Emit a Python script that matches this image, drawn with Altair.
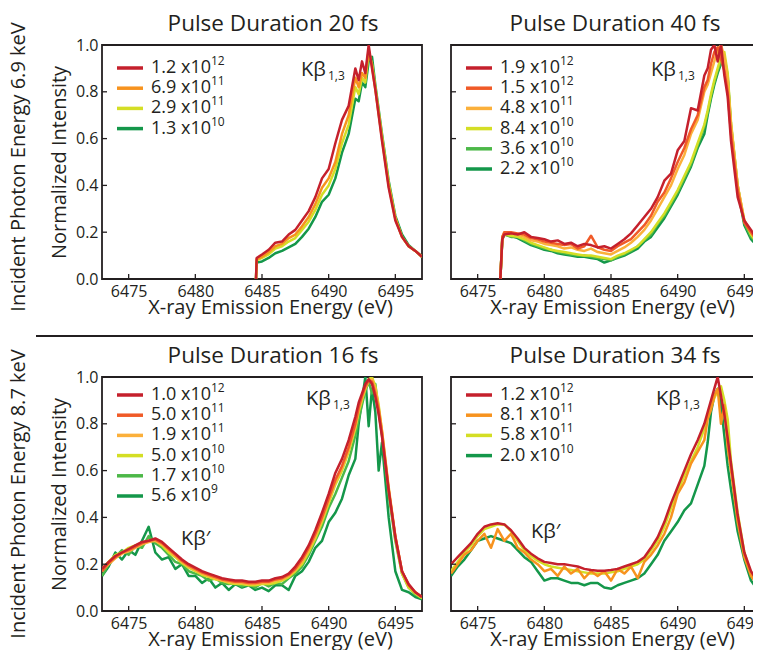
import altair as alt
import pandas as pd

FONT = "Open Sans"
INK = "#231f20"
W, H = 320, 234
X_DOMAIN = [6473, 6497]
X_TICKS = [6475, 6480, 6485, 6490, 6495]
Y_TICKS = [0.0, 0.2, 0.4, 0.6, 0.8, 1.0]
Y_INNER = [0.2, 0.4, 0.6, 0.8]

RED = "#c5202c"
ORED = "#f05a28"
ORANGE = "#f7931e"
LORANGE = "#fbb03b"
YELLOW = "#d4de25"
LGREEN = "#4cb848"
GREEN = "#14974a"

# ---------------- Panel A: 6.9 keV, 20 fs ----------------
GRID_A = [6484.55, 6484.6, 6485.0, 6485.5, 6486.0, 6486.5, 6487.0, 6487.5, 6488.0, 6488.5,
          6489.0, 6489.5, 6490.0, 6490.5, 6491.0, 6491.5, 6492.0, 6492.25, 6492.5, 6492.75,
          6493.0, 6493.25, 6493.5, 6494.0, 6494.5, 6495.0, 6495.5, 6496.0, 6496.5, 6497.0]
A_NAMES = ["1.2e12", "6.9e11", "2.9e11", "1.3e10"]
A_MAIN = ["1.2 x10", "6.9 x10", "2.9 x10", "1.3 x10"]
A_EXP = ["12", "11", "11", "10"]
A_COLORS = [RED, ORANGE, YELLOW, GREEN]
A_1 = [0.0, 0.09, 0.105, 0.125, 0.155, 0.16, 0.19, 0.21, 0.25, 0.29,
       0.35, 0.43, 0.47, 0.58, 0.68, 0.74, 0.90, 0.85, 0.93, 0.88,
       1.0, 0.90, 0.81, 0.59, 0.39, 0.25, 0.18, 0.14, 0.12, 0.095]
A_2 = [0.0, 0.085, 0.095, 0.115, 0.14, 0.15, 0.175, 0.19, 0.225, 0.265,
       0.32, 0.39, 0.43, 0.50, 0.62, 0.70, 0.86, 0.82, 0.88, 0.86,
       0.98, 0.91, 0.81, 0.60, 0.40, 0.26, 0.18, 0.14, 0.12, 0.095]
A_3 = [0.0, 0.08, 0.09, 0.105, 0.13, 0.14, 0.16, 0.175, 0.21, 0.245,
       0.295, 0.36, 0.40, 0.47, 0.58, 0.66, 0.82, 0.79, 0.86, 0.84,
       0.97, 0.92, 0.82, 0.61, 0.41, 0.26, 0.18, 0.14, 0.12, 0.095]
A_4 = [0.0, 0.07, 0.075, 0.09, 0.11, 0.12, 0.135, 0.15, 0.18, 0.215,
       0.265, 0.33, 0.36, 0.43, 0.54, 0.62, 0.77, 0.76, 0.84, 0.82,
       0.93, 0.95, 0.83, 0.62, 0.42, 0.27, 0.19, 0.145, 0.12, 0.095]

# ---------------- Panel B: 6.9 keV, 40 fs ----------------
GRID_B = [6476.7, 6476.85, 6477.0, 6477.5, 6478.0, 6478.5, 6479.0, 6479.5, 6480.0, 6480.5,
          6481.0, 6481.5, 6482.0, 6482.5, 6483.0, 6483.5, 6484.0, 6484.5, 6485.0, 6485.5,
          6486.0, 6486.5, 6487.0, 6487.5, 6488.0, 6488.5, 6489.0, 6489.5, 6490.0, 6490.5,
          6491.0, 6491.5, 6492.0, 6492.25, 6492.5, 6492.75, 6493.0, 6493.25, 6493.5, 6493.75,
          6494.0, 6494.5, 6495.0, 6495.5, 6496.0, 6496.5, 6497.0]
B_NAMES = ["1.9e12", "1.5e12", "4.8e11", "8.4e10", "3.6e10", "2.2e10"]
B_MAIN = ["1.9 x10", "1.5 x10", "4.8 x10", "8.4 x10", "3.6 x10", "2.2 x10"]
B_EXP = ["12", "12", "11", "10", "10", "10"]
B_COLORS = [RED, ORED, LORANGE, YELLOW, LGREEN, GREEN]
B_1 = [0.0, 0.17, 0.19, 0.195, 0.19, 0.20, 0.18, 0.175, 0.17, 0.16,
       0.165, 0.15, 0.155, 0.14, 0.15, 0.145, 0.135, 0.14, 0.13, 0.15,
       0.17, 0.195, 0.23, 0.265, 0.30, 0.35, 0.42, 0.45, 0.55, 0.59,
       0.73, 0.72, 0.87, 0.90, 0.98, 1.0, 0.93, 1.0, 0.87, 0.78,
       0.59, 0.35, 0.25, 0.21, 0.165, 0.14, 0.12]
B_2 = [0.0, 0.18, 0.20, 0.20, 0.195, 0.19, 0.175, 0.17, 0.16, 0.155,
       0.15, 0.145, 0.15, 0.13, 0.14, 0.185, 0.135, 0.125, 0.12, 0.14,
       0.155, 0.17, 0.20, 0.23, 0.27, 0.33, 0.37, 0.43, 0.50, 0.56,
       0.64, 0.70, 0.82, 0.85, 0.92, 0.97, 0.99, 0.94, 0.89, 0.80,
       0.62, 0.38, 0.24, 0.20, 0.16, 0.13, 0.11]
B_3 = [0.0, 0.18, 0.20, 0.195, 0.19, 0.18, 0.165, 0.16, 0.15, 0.145,
       0.14, 0.13, 0.135, 0.125, 0.12, 0.13, 0.115, 0.11, 0.105, 0.12,
       0.135, 0.155, 0.18, 0.21, 0.25, 0.30, 0.35, 0.40, 0.47, 0.53,
       0.62, 0.68, 0.80, 0.83, 0.88, 0.93, 0.98, 1.0, 0.95, 0.85,
       0.66, 0.40, 0.25, 0.20, 0.16, 0.13, 0.11]
B_4 = [0.0, 0.17, 0.19, 0.185, 0.18, 0.17, 0.155, 0.145, 0.135, 0.125,
       0.12, 0.115, 0.11, 0.105, 0.10, 0.10, 0.095, 0.09, 0.085, 0.10,
       0.11, 0.125, 0.14, 0.17, 0.20, 0.24, 0.28, 0.33, 0.38, 0.44,
       0.50, 0.58, 0.66, 0.72, 0.79, 0.85, 0.90, 0.95, 0.97, 0.88,
       0.67, 0.40, 0.25, 0.19, 0.15, 0.12, 0.10]
B_5 = [0.0, 0.18, 0.19, 0.18, 0.18, 0.165, 0.15, 0.14, 0.13, 0.125,
       0.115, 0.11, 0.105, 0.10, 0.10, 0.095, 0.09, 0.085, 0.08, 0.095,
       0.105, 0.12, 0.14, 0.165, 0.19, 0.235, 0.27, 0.32, 0.37, 0.43,
       0.49, 0.57, 0.65, 0.71, 0.78, 0.84, 0.89, 0.93, 0.95, 0.87,
       0.66, 0.40, 0.24, 0.18, 0.15, 0.12, 0.10]
B_6 = [0.0, 0.17, 0.19, 0.185, 0.175, 0.16, 0.145, 0.135, 0.125, 0.12,
       0.11, 0.105, 0.10, 0.095, 0.095, 0.09, 0.085, 0.07, 0.08, 0.09,
       0.10, 0.115, 0.13, 0.16, 0.18, 0.22, 0.26, 0.31, 0.36, 0.42,
       0.48, 0.56, 0.62, 0.70, 0.77, 0.83, 0.88, 0.92, 0.94, 0.86,
       0.64, 0.38, 0.23, 0.17, 0.14, 0.12, 0.10]

# ---------------- Panels C, D: 8.7 keV ----------------
GRID_CD = [6473.0, 6473.5, 6474.0, 6474.5, 6475.0, 6475.5, 6476.0, 6476.5, 6477.0, 6477.5,
           6478.0, 6478.5, 6479.0, 6479.5, 6480.0, 6480.5, 6481.0, 6481.5, 6482.0, 6482.5,
           6483.0, 6483.5, 6484.0, 6484.5, 6485.0, 6485.5, 6486.0, 6486.5, 6487.0, 6487.5,
           6488.0, 6488.5, 6489.0, 6489.5, 6490.0, 6490.5, 6491.0, 6491.5, 6492.0, 6492.25,
           6492.5, 6492.75, 6493.0, 6493.25, 6493.5, 6493.75, 6494.0, 6494.5, 6495.0, 6495.5,
           6496.0, 6496.5, 6497.0]
C_NAMES = ["1.0e12", "5.0e11", "1.9e11", "5.0e10", "1.7e10", "5.6e9"]
C_MAIN = ["1.0 x10", "5.0 x10", "1.9 x10", "5.0 x10", "1.7 x10", "5.6 x10"]
C_EXP = ["12", "11", "11", "10", "10", "9"]
C_COLORS = [RED, ORED, LORANGE, YELLOW, LGREEN, GREEN]
C_1 = [0.18, 0.21, 0.235, 0.25, 0.265, 0.28, 0.295, 0.30, 0.31, 0.295,
       0.27, 0.245, 0.22, 0.20, 0.185, 0.17, 0.16, 0.15, 0.14, 0.135,
       0.13, 0.13, 0.125, 0.125, 0.13, 0.13, 0.14, 0.145, 0.16, 0.19,
       0.23, 0.28, 0.345, 0.42, 0.50, 0.59, 0.65, 0.73, 0.83, 0.89,
       0.93, 0.97, 0.99, 0.97, 0.915, 0.84, 0.745, 0.515, 0.315, 0.17,
       0.115, 0.08, 0.06]
C_2 = [0.17, 0.205, 0.23, 0.25, 0.26, 0.275, 0.29, 0.30, 0.305, 0.29,
       0.265, 0.24, 0.215, 0.195, 0.18, 0.165, 0.155, 0.145, 0.135, 0.13,
       0.125, 0.125, 0.12, 0.12, 0.125, 0.125, 0.135, 0.14, 0.155, 0.18,
       0.22, 0.27, 0.33, 0.40, 0.48, 0.56, 0.62, 0.70, 0.80, 0.87,
       0.92, 0.96, 0.985, 0.98, 0.93, 0.86, 0.76, 0.52, 0.32, 0.17,
       0.11, 0.08, 0.06]
C_3 = [0.17, 0.20, 0.225, 0.245, 0.255, 0.27, 0.285, 0.295, 0.30, 0.285,
       0.26, 0.235, 0.21, 0.19, 0.175, 0.16, 0.15, 0.14, 0.13, 0.125,
       0.12, 0.12, 0.115, 0.115, 0.12, 0.12, 0.13, 0.135, 0.15, 0.175,
       0.21, 0.26, 0.32, 0.39, 0.47, 0.55, 0.61, 0.69, 0.79, 0.86,
       0.91, 0.95, 0.98, 0.99, 0.95, 0.87, 0.77, 0.53, 0.32, 0.17,
       0.11, 0.08, 0.06]
C_4 = [0.18, 0.21, 0.24, 0.25, 0.27, 0.28, 0.29, 0.30, 0.30, 0.28,
       0.25, 0.23, 0.205, 0.185, 0.17, 0.155, 0.145, 0.135, 0.13, 0.12,
       0.115, 0.115, 0.11, 0.11, 0.115, 0.115, 0.12, 0.13, 0.145, 0.17,
       0.20, 0.25, 0.31, 0.38, 0.46, 0.54, 0.60, 0.68, 0.78, 0.85,
       0.90, 0.95, 0.99, 1.0, 0.96, 0.88, 0.77, 0.52, 0.31, 0.16,
       0.10, 0.075, 0.055]
C_5 = [0.15, 0.20, 0.23, 0.26, 0.24, 0.28, 0.27, 0.32, 0.29, 0.27,
       0.24, 0.21, 0.20, 0.17, 0.16, 0.15, 0.13, 0.14, 0.12, 0.115,
       0.12, 0.105, 0.115, 0.10, 0.12, 0.105, 0.12, 0.115, 0.14, 0.16,
       0.19, 0.24, 0.30, 0.36, 0.44, 0.50, 0.57, 0.64, 0.75, 0.82,
       0.88, 0.94, 0.98, 0.93, 0.97, 0.85, 0.75, 0.50, 0.30, 0.16,
       0.10, 0.07, 0.055]
C_6 = [0.15, 0.19, 0.25, 0.22, 0.26, 0.24, 0.30, 0.36, 0.25, 0.22,
       0.23, 0.18, 0.20, 0.15, 0.15, 0.12, 0.14, 0.10, 0.12, 0.09,
       0.115, 0.10, 0.11, 0.09, 0.10, 0.085, 0.11, 0.11, 0.09, 0.15,
       0.17, 0.21, 0.27, 0.30, 0.38, 0.42, 0.48, 0.58, 0.65, 0.80,
       0.90, 1.0, 0.79, 0.95, 0.85, 0.60, 0.72, 0.40, 0.17, 0.09,
       0.08, 0.06, 0.05]

D_NAMES = ["1.2e12", "8.1e11", "5.8e11", "2.0e10"]
D_MAIN = ["1.2 x10", "8.1 x10", "5.8 x10", "2.0 x10"]
D_EXP = ["12", "11", "11", "10"]
D_COLORS = [RED, ORANGE, YELLOW, GREEN]
D_1 = [0.20, 0.23, 0.26, 0.29, 0.33, 0.36, 0.37, 0.375, 0.37, 0.345,
       0.31, 0.27, 0.245, 0.225, 0.21, 0.205, 0.20, 0.20, 0.195, 0.19,
       0.18, 0.175, 0.172, 0.172, 0.175, 0.18, 0.19, 0.20, 0.21, 0.23,
       0.27, 0.315, 0.38, 0.46, 0.53, 0.60, 0.67, 0.73, 0.80, 0.85,
       0.90, 0.95, 1.0, 0.92, 0.84, 0.74, 0.63, 0.41, 0.25, 0.17,
       0.125, 0.10, 0.08]
D_2 = [0.16, 0.20, 0.24, 0.26, 0.30, 0.33, 0.27, 0.35, 0.30, 0.33,
       0.27, 0.25, 0.22, 0.20, 0.17, 0.18, 0.15, 0.19, 0.16, 0.18,
       0.14, 0.17, 0.15, 0.17, 0.13, 0.18, 0.16, 0.19, 0.14, 0.21,
       0.24, 0.28, 0.33, 0.40, 0.50, 0.55, 0.63, 0.68, 0.73, 0.82,
       0.86, 0.92, 0.95, 0.80, 0.88, 0.70, 0.60, 0.38, 0.23, 0.15,
       0.11, 0.09, 0.08]
D_3 = [0.17, 0.21, 0.25, 0.28, 0.32, 0.35, 0.36, 0.37, 0.37, 0.34,
       0.30, 0.26, 0.235, 0.215, 0.20, 0.19, 0.185, 0.18, 0.175, 0.17,
       0.165, 0.16, 0.16, 0.16, 0.165, 0.17, 0.18, 0.19, 0.20, 0.22,
       0.26, 0.30, 0.36, 0.44, 0.51, 0.58, 0.64, 0.70, 0.78, 0.83,
       0.87, 0.91, 0.94, 0.96, 0.90, 0.82, 0.64, 0.42, 0.25, 0.16,
       0.12, 0.09, 0.075]
D_4 = [0.15, 0.19, 0.22, 0.26, 0.30, 0.31, 0.32, 0.31, 0.30, 0.29,
       0.26, 0.23, 0.21, 0.17, 0.13, 0.14, 0.14, 0.13, 0.12, 0.12,
       0.11, 0.12, 0.12, 0.10, 0.095, 0.11, 0.12, 0.13, 0.14, 0.16,
       0.20, 0.24, 0.30, 0.34, 0.38, 0.43, 0.46, 0.54, 0.62, 0.72,
       0.85, 0.92, 0.95, 0.88, 0.75, 0.62, 0.52, 0.34, 0.22, 0.13,
       0.09, 0.07, 0.06]


def txt(s, x, y, size, **kw):
    return alt.Chart(pd.DataFrame({"t": [s]})).mark_text(
        font=FONT, fontSize=size, color=INK, **kw
    ).encode(x=alt.value(x), y=alt.value(y), text="t:N")


def make_panel(title, title_dx, grid, names, mains, exps, vals, colors, legend_top,
               left, kb_pos, row_label=None, row_dy=5, kbp_pos=None, separator=False):
    cscale = alt.Scale(domain=names, range=colors)
    x_axis = alt.Axis(values=X_TICKS, format="d", title="X-ray Emission Energy (eV)",
                      labelFontSize=16, labelPadding=4, titleFontSize=20, titlePadding=-2,
                      titleX=W / 2 + title_dx - 3)
    y_axis = alt.Axis(values=Y_TICKS, format=".1f", title="Normalized Intensity",
                      labelFontSize=16, labelPadding=4, titleFontSize=20, titlePadding=6)
    layers = []
    for i in range(len(names) - 1, -1, -1):
        df = pd.DataFrame({"E": grid, "I": vals[i], "series": names[i]})
        if not layers:
            xenc = alt.X("E:Q", scale=alt.Scale(domain=X_DOMAIN, nice=False, zero=False),
                         axis=x_axis)
            if left:
                yenc = alt.Y("I:Q", scale=alt.Scale(domain=[0, 1], nice=False), axis=y_axis)
            else:
                yenc = alt.Y("I:Q", scale=alt.Scale(domain=[0, 1], nice=False), axis=None)
        else:
            xenc = alt.X("E:Q")
            yenc = alt.Y("I:Q", scale=alt.Scale(domain=[0, 1], nice=False), axis=None)
        layers.append(
            alt.Chart(df).mark_line(strokeWidth=2.5, clip=True, strokeJoin="round").encode(
                x=xenc, y=yenc,
                color=alt.Color("series:N", scale=cscale, legend=None),
            )
        )
    # inward ticks
    layers.append(
        alt.Chart(pd.DataFrame({"E": X_TICKS})).mark_rule(color=INK, strokeWidth=1.3).encode(
            x="E:Q", y=alt.value(H), y2=alt.value(H - 5))
    )
    layers.append(
        alt.Chart(pd.DataFrame({"I": Y_INNER})).mark_rule(color=INK, strokeWidth=1.3).encode(
            y=alt.Y("I:Q", scale=alt.Scale(domain=[0, 1], nice=False), axis=None),
            x=alt.value(0), x2=alt.value(5))
    )
    # manual legend
    leg = pd.DataFrame({"series": names, "k": list(range(len(names))),
                        "main": mains, "exp": exps})
    ky = alt.Y("k:Q", scale=alt.Scale(domain=[0, 10], range=[legend_top, legend_top + 202],
                                      nice=False, zero=False), axis=None)
    layers.append(
        alt.Chart(leg).mark_rule(strokeWidth=3.5).encode(
            x=alt.value(15), x2=alt.value(41), y=ky,
            color=alt.Color("series:N", scale=cscale, legend=None))
    )
    layers.append(
        alt.Chart(leg).mark_text(font=FONT, fontSize=18, color=INK, align="left",
                                 baseline="middle").encode(
            x=alt.value(49), y=ky, text="main:N")
    )
    layers.append(
        alt.Chart(leg).mark_text(font=FONT, fontSize=12, color=INK, align="left",
                                 baseline="middle", dy=-7).encode(
            x=alt.value(109), y=ky, text="exp:N")
    )
    # panel title
    layers.append(txt(title, W / 2 + title_dx, -14, 22.5, align="center",
                      baseline="alphabetic"))
    # peak labels
    layers.append(txt("Kβ", kb_pos[0], kb_pos[1], 20, align="left", baseline="alphabetic"))
    layers.append(txt("1,3", kb_pos[0] + 27, kb_pos[1] + 4, 12, align="left",
                      baseline="alphabetic"))
    if kbp_pos is not None:
        layers.append(txt("Kβ′", kbp_pos[0], kbp_pos[1], 20, align="left",
                          baseline="alphabetic"))
    if row_label is not None:
        layers.append(txt(row_label, -83, H / 2 + row_dy, 20, align="center",
                          baseline="middle", angle=270))
    if separator:
        layers.append(
            alt.Chart(pd.DataFrame({"a": [0]})).mark_rule(color=INK, strokeWidth=1.8).encode(
                x=alt.value(-66), x2=alt.value(2 * W + 29), y=alt.value(-41))
        )
    return alt.layer(*layers).resolve_scale(y="independent").properties(
        width=W, height=H,
    )


pA = make_panel("Pulse Duration 20 fs", 11, GRID_A, A_NAMES, A_MAIN, A_EXP,
                [A_1, A_2, A_3, A_4], A_COLORS, 23, True, (199, 31),
                row_label="Incident Photon Energy 6.9 keV", row_dy=5)
pB = make_panel("Pulse Duration 40 fs", 4, GRID_B, B_NAMES, B_MAIN, B_EXP,
                [B_1, B_2, B_3, B_4, B_5, B_6], B_COLORS, 23, False, (200, 31))
pC = make_panel("Pulse Duration 16 fs", 11, GRID_CD, C_NAMES, C_MAIN, C_EXP,
                [C_1, C_2, C_3, C_4, C_5, C_6], C_COLORS, 18, True, (204, 28),
                row_label="Incident Photon Energy 8.7 keV", row_dy=0, kbp_pos=(79, 168),
                separator=True)
pD = make_panel("Pulse Duration 34 fs", 4, GRID_CD, D_NAMES, D_MAIN, D_EXP,
                [D_1, D_2, D_3, D_4], D_COLORS, 18, False, (205, 28), kbp_pos=(80, 161))

chart = alt.concat(
    pA, pB, pC, pD, columns=2,
    spacing=alt.RowColnumber(column=29, row=98), bounds="flush",
).resolve_scale(
    color="independent", x="independent", y="independent"
).properties(
    padding={"left": 0, "top": 4, "right": -20, "bottom": 0},
    background="white",
).configure_view(
    stroke=INK, strokeWidth=1.8
).configure_axis(
    labelFont=FONT, titleFont=FONT, labelColor=INK, titleColor=INK,
    titleFontWeight="normal", grid=False, ticks=False, domain=False
)

chart.save("out.html", embed_options={"renderer": "svg", "actions": False})
